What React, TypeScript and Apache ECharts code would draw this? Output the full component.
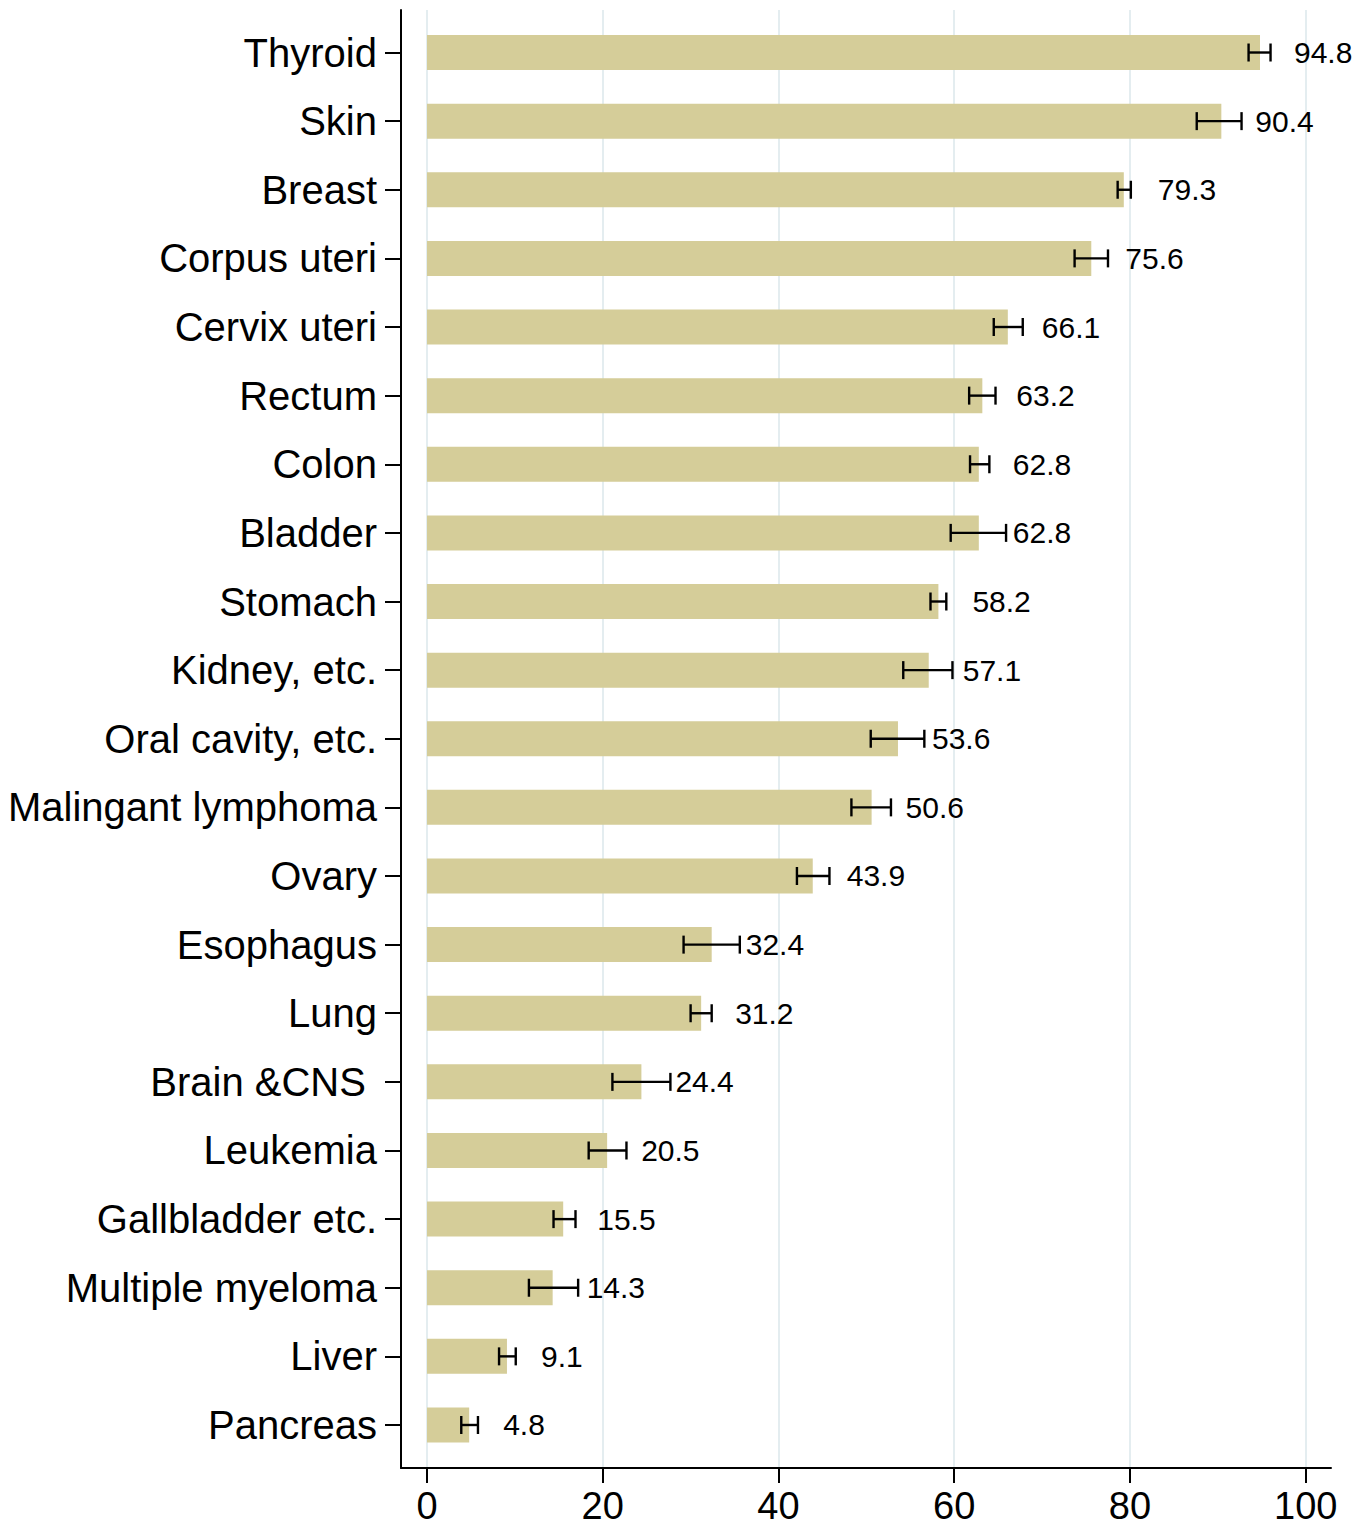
import React, { useEffect, useRef } from "react";
import * as echarts from "echarts";

const categories = [
  "Thyroid", "Skin", "Breast", "Corpus uteri", "Cervix uteri", "Rectum", "Colon",
  "Bladder", "Stomach", "Kidney, etc.", "Oral cavity, etc.", "Malingant lymphoma",
  "Ovary", "Esophagus", "Lung", "Brain &CNS ", "Leukemia", "Gallbladder etc.",
  "Multiple myeloma", "Liver", "Pancreas",
];
const values = [94.8, 90.4, 79.3, 75.6, 66.1, 63.2, 62.8, 62.8, 58.2, 57.1, 53.6, 50.6, 43.9, 32.4, 31.2, 24.4, 20.5, 15.5, 14.3, 9.1, 4.8];
const lower = [93.5, 87.6, 78.6, 73.7, 64.5, 61.7, 61.8, 59.6, 57.3, 54.2, 50.5, 48.3, 42.1, 29.2, 30.0, 21.1, 18.4, 14.4, 11.6, 8.2, 3.9];
const upper = [96.0, 92.7, 80.1, 77.5, 67.8, 64.7, 64.0, 65.9, 59.1, 59.8, 56.6, 52.8, 45.8, 35.6, 32.4, 27.7, 22.7, 16.9, 17.2, 10.1, 5.8];
const xTicks = { min: 0, max: 100, interval: 20 };
// data-grid x range, padded so that 0..100 lines up with the tick grid
const xPad = { min: -2.959, max: 102.88 };

const FONT = "'Liberation Sans', Arial, Helvetica, sans-serif";

export default function App() {
  const ref = useRef<HTMLDivElement>(null);
  useEffect(() => {
    document.body.style.margin = "0";
    if (!ref.current) return;
    const chart = echarts.init(ref.current, null, { renderer: "svg" });
    const errData = categories.map((_, i) => [i, lower[i], upper[i]]);
    chart.setOption({
      animation: false,
      backgroundColor: "#ffffff",
      textStyle: { fontFamily: FONT },
      grid: [
        { left: 401, right: 32, top: 10, bottom: 58 },
        { left: 427, right: 57.3, top: 10, bottom: 58 },
        { left: 401, right: 32, top: 18.2, bottom: 66.7 },
      ],
      xAxis: [
        {
          gridIndex: 0, type: "value", min: 0, max: 1,
          axisLine: { show: true, onZero: false, lineStyle: { color: "#000", width: 2 } },
          axisTick: { show: false }, axisLabel: { show: false }, splitLine: { show: false },
        },
        {
          gridIndex: 1, type: "value", min: xTicks.min, max: xTicks.max, interval: xTicks.interval,
          axisLine: { show: false, onZero: false },
          axisTick: { show: true, length: 15, lineStyle: { color: "#000", width: 2 } },
          axisLabel: { show: true, fontSize: 38, lineHeight: 34, color: "#000", margin: 21, fontFamily: FONT },
          splitLine: { show: true, lineStyle: { color: "#e4edf0", width: 2 } },
        },
        {
          gridIndex: 2, type: "value", min: xPad.min, max: xPad.max, show: false,
          axisLine: { onZero: false },
        },
      ],
      yAxis: [
        {
          gridIndex: 0, type: "value", min: 0, max: 1,
          axisLine: { show: true, onZero: false, lineStyle: { color: "#000", width: 2 } },
          axisTick: { show: false }, axisLabel: { show: false }, splitLine: { show: false },
        },
        {
          gridIndex: 1, type: "value", show: false, min: 0, max: 1, splitLine: { show: false },
          axisLine: { onZero: false },
        },
        {
          gridIndex: 2, type: "category", data: categories, inverse: true, position: "left",
          axisLine: { show: false, onZero: false },
          axisTick: { show: true, alignWithLabel: true, length: 16, lineStyle: { color: "#000", width: 2 } },
          axisLabel: { show: true, fontSize: 40, color: "#000", margin: 24, fontFamily: FONT },
          splitLine: { show: false },
        },
      ],
      series: [
        {
          type: "bar",
          xAxisIndex: 2,
          yAxisIndex: 2,
          data: values,
          barWidth: 35,
          itemStyle: { color: "#d5cd99" },
          label: {
            show: true,
            position: "right",
            distance: 34,
            fontSize: 30,
            color: "#000",
            fontFamily: FONT,
            formatter: (p: any) => Number(p.value).toFixed(1),
          },
          z: 2,
        },
        {
          type: "custom",
          xAxisIndex: 2,
          yAxisIndex: 2,
          data: errData,
          encode: { x: [1, 2], y: 0 },
          z: 3,
          renderItem: (params: any, api: any) => {
            const idx = api.value(0);
            const lo = api.coord([api.value(1), idx]);
            const hi = api.coord([api.value(2), idx]);
            const h = 9;
            const style = { stroke: "#000", lineWidth: 2.4 };
            return {
              type: "group",
              children: [
                { type: "line", shape: { x1: lo[0], y1: lo[1], x2: hi[0], y2: hi[1] }, style },
                { type: "line", shape: { x1: lo[0], y1: lo[1] - h, x2: lo[0], y2: lo[1] + h }, style },
                { type: "line", shape: { x1: hi[0], y1: hi[1] - h, x2: hi[0], y2: hi[1] + h }, style },
              ],
            };
          },
        },
      ],
    });
    return () => chart.dispose();
  }, []);
  return <div ref={ref} style={{ width: 1363, height: 1526 }} />;
}
